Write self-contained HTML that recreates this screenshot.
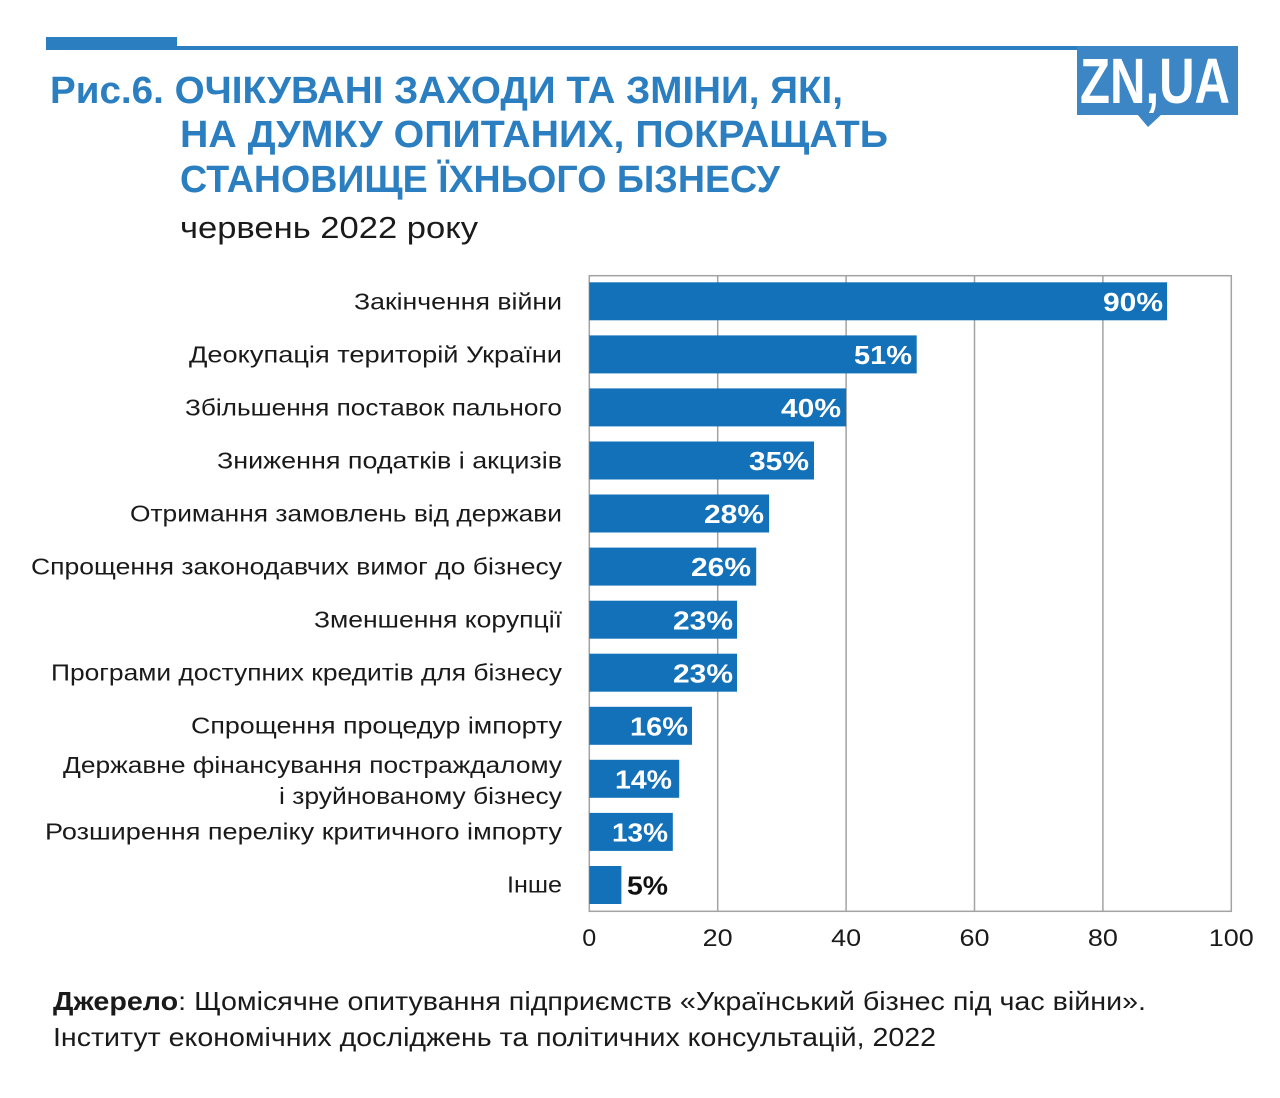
<!DOCTYPE html>
<html>
<head>
<meta charset="utf-8">
<style>
  html,body{margin:0;padding:0;background:#fff;}
  svg{display:block;}
  text{font-family:"Liberation Sans","DejaVu Sans",sans-serif;}
</style>
</head>
<body>
<svg width="1280" height="1098" viewBox="0 0 1280 1098" xmlns="http://www.w3.org/2000/svg">
  <rect x="0" y="0" width="1280" height="1098" fill="#ffffff"/>

  <!-- top rule -->
  <rect x="46" y="37" width="131" height="13" fill="#2b7fc0"/>
  <rect x="177" y="46" width="902" height="4" fill="#2b7fc0"/>

  <!-- logo -->
  <rect x="1077" y="46" width="161" height="69" fill="#3d86c6"/>
  <polygon points="1137,114 1162,114 1148,127" fill="#3d86c6"/>
  <text x="1080" y="103" font-size="64" font-weight="bold" fill="#ffffff" textLength="150" lengthAdjust="spacingAndGlyphs">ZN,UA</text>

  <!-- title -->
  <g fill="#2b7fc0" font-weight="bold" font-size="38">
    <text x="50" y="103" textLength="793" lengthAdjust="spacingAndGlyphs">Рис.6. ОЧІКУВАНІ ЗАХОДИ ТА ЗМІНИ, ЯКІ,</text>
    <text x="180" y="147" textLength="708" lengthAdjust="spacingAndGlyphs">НА ДУМКУ ОПИТАНИХ, ПОКРАЩАТЬ</text>
    <text x="180" y="192" textLength="600" lengthAdjust="spacingAndGlyphs">СТАНОВИЩЕ ЇХНЬОГО БІЗНЕСУ</text>
  </g>
  <text x="180" y="238" font-size="31" fill="#1a1a1a" textLength="298" lengthAdjust="spacingAndGlyphs">червень 2022 року</text>

  <!-- gridlines -->
  <g stroke="#a3a3a3" stroke-width="1.5" fill="none">
    <line x1="717.7" y1="275.7" x2="717.7" y2="911.3"/>
    <line x1="846.1" y1="275.7" x2="846.1" y2="911.3"/>
    <line x1="974.5" y1="275.7" x2="974.5" y2="911.3"/>
    <line x1="1102.9" y1="275.7" x2="1102.9" y2="911.3"/>
    <rect x="589.3" y="275.7" width="642" height="635.6"/>
  </g>

  <!-- bars -->
  <g fill="#1271b9">
    <rect x="589.3" y="282.3" width="577.8" height="38"/>
    <rect x="589.3" y="335.4" width="327.4" height="38"/>
    <rect x="589.3" y="388.4" width="256.8" height="38"/>
    <rect x="589.3" y="441.5" width="224.7" height="38"/>
    <rect x="589.3" y="494.5" width="179.8" height="38"/>
    <rect x="589.3" y="547.6" width="166.9" height="38"/>
    <rect x="589.3" y="600.7" width="147.7" height="38"/>
    <rect x="589.3" y="653.7" width="147.7" height="38"/>
    <rect x="589.3" y="706.8" width="102.7" height="38"/>
    <rect x="589.3" y="759.8" width="89.9" height="38"/>
    <rect x="589.3" y="812.9" width="83.5" height="38"/>
    <rect x="589.3" y="866.0" width="32.1" height="38"/>
  </g>

  <!-- value labels -->
  <g fill="#ffffff" font-weight="bold" font-size="26" text-anchor="end">
    <text x="1163" y="311" textLength="60" lengthAdjust="spacingAndGlyphs">90%</text>
    <text x="912" y="364" textLength="58" lengthAdjust="spacingAndGlyphs">51%</text>
    <text x="841" y="417" textLength="60" lengthAdjust="spacingAndGlyphs">40%</text>
    <text x="809" y="470" textLength="60" lengthAdjust="spacingAndGlyphs">35%</text>
    <text x="764" y="523" textLength="60" lengthAdjust="spacingAndGlyphs">28%</text>
    <text x="751" y="576" textLength="60" lengthAdjust="spacingAndGlyphs">26%</text>
    <text x="733" y="629.5" textLength="60" lengthAdjust="spacingAndGlyphs">23%</text>
    <text x="733" y="682.5" textLength="60" lengthAdjust="spacingAndGlyphs">23%</text>
    <text x="688" y="735.5" textLength="58" lengthAdjust="spacingAndGlyphs">16%</text>
    <text x="672" y="788.5" textLength="57" lengthAdjust="spacingAndGlyphs">14%</text>
    <text x="668" y="841.5" textLength="56" lengthAdjust="spacingAndGlyphs">13%</text>
  </g>
  <text x="627" y="894.5" fill="#111111" font-weight="bold" font-size="26" textLength="41" lengthAdjust="spacingAndGlyphs">5%</text>

  <!-- category labels -->
  <g fill="#1a1a1a" font-size="23" text-anchor="end">
    <text x="562" y="309.5" textLength="208" lengthAdjust="spacingAndGlyphs">Закінчення війни</text>
    <text x="562" y="362.5" textLength="373" lengthAdjust="spacingAndGlyphs">Деокупація територій України</text>
    <text x="562" y="415.5" textLength="377" lengthAdjust="spacingAndGlyphs">Збільшення поставок пального</text>
    <text x="562" y="468.5" textLength="345" lengthAdjust="spacingAndGlyphs">Зниження податків і акцизів</text>
    <text x="562" y="521.5" textLength="432" lengthAdjust="spacingAndGlyphs">Отримання замовлень від держави</text>
    <text x="562" y="574.5" textLength="531" lengthAdjust="spacingAndGlyphs">Спрощення законодавчих вимог до бізнесу</text>
    <text x="562" y="627.5" textLength="248" lengthAdjust="spacingAndGlyphs">Зменшення корупції</text>
    <text x="562" y="680.5" textLength="511" lengthAdjust="spacingAndGlyphs">Програми доступних кредитів для бізнесу</text>
    <text x="562" y="733.5" textLength="371" lengthAdjust="spacingAndGlyphs">Спрощення процедур імпорту</text>
    <text x="562" y="773" textLength="499" lengthAdjust="spacingAndGlyphs">Державне фінансування постраждалому</text>
    <text x="562" y="804" textLength="283" lengthAdjust="spacingAndGlyphs">і зруйнованому бізнесу</text>
    <text x="562" y="839.5" textLength="517" lengthAdjust="spacingAndGlyphs">Розширення переліку критичного імпорту</text>
    <text x="562" y="892.5" textLength="55" lengthAdjust="spacingAndGlyphs">Інше</text>
  </g>

  <!-- x tick labels -->
  <g fill="#1a1a1a" font-size="24" text-anchor="middle">
    <text x="589.3" y="946" textLength="14" lengthAdjust="spacingAndGlyphs">0</text>
    <text x="717.7" y="946" textLength="30" lengthAdjust="spacingAndGlyphs">20</text>
    <text x="846.1" y="946" textLength="30" lengthAdjust="spacingAndGlyphs">40</text>
    <text x="974.5" y="946" textLength="30" lengthAdjust="spacingAndGlyphs">60</text>
    <text x="1102.9" y="946" textLength="30" lengthAdjust="spacingAndGlyphs">80</text>
    <text x="1231.3" y="946" textLength="45" lengthAdjust="spacingAndGlyphs">100</text>
  </g>

  <!-- footer -->
  <text x="53" y="1010" font-size="26" fill="#1a1a1a" textLength="1093" lengthAdjust="spacingAndGlyphs"><tspan font-weight="bold">Джерело</tspan>: Щомісячне опитування підприємств «Український бізнес під час війни».</text>
  <text x="53" y="1046" font-size="26" fill="#1a1a1a" textLength="883" lengthAdjust="spacingAndGlyphs">Інститут економічних досліджень та політичних консультацій, 2022</text>
</svg>
</body>
</html>
